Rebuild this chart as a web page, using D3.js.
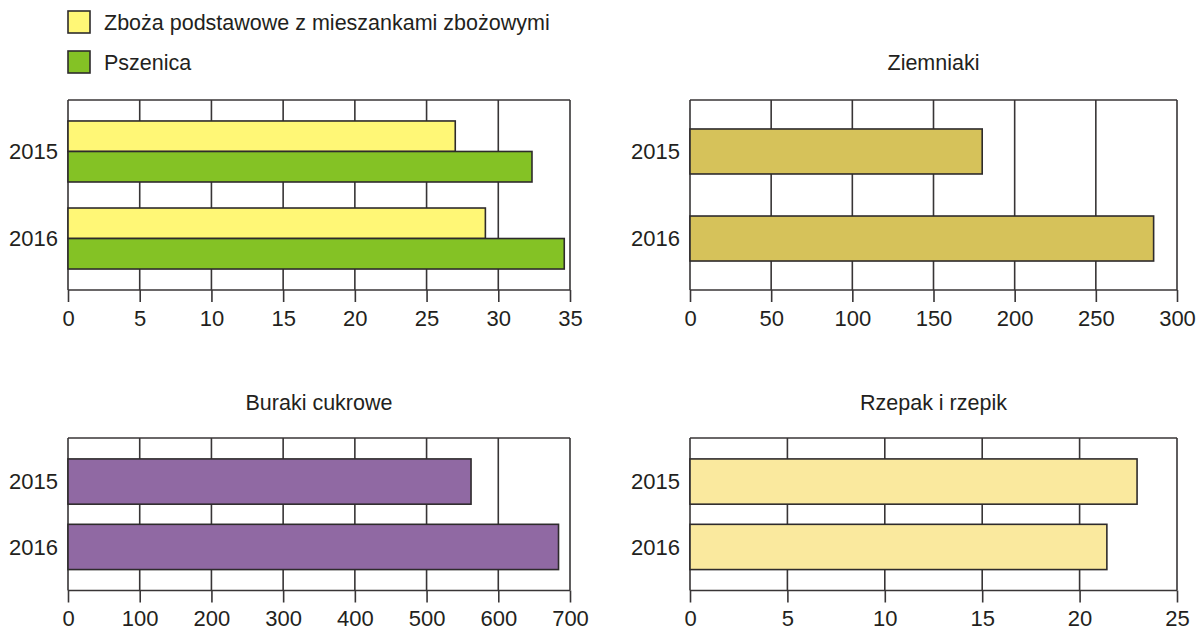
<!DOCTYPE html>
<html>
<head>
<meta charset="utf-8">
<script src="https://cdn.jsdelivr.net/npm/d3@7"></script>
<style>
  html, body { margin: 0; padding: 0; background: #ffffff; }
  svg { display: block; }
  text { font-family: "Liberation Sans", Arial, Helvetica, sans-serif; fill: #231f20; }
</style>
</head>
<body>
<svg id="chart" width="1196" height="630"></svg>
<script>
// ---------- DATA ----------
const years = ["2015", "2016"];

const legendLabels = ["Zboża podstawowe z mieszankami zbożowymi", "Pszenica"];
const zbozaValues = [27.0, 29.1];
const pszenicaValues = [32.35, 34.6];
const zbozaTicks = [0, 5, 10, 15, 20, 25, 30, 35];

const ziemniakiTitle = "Ziemniaki";
const ziemniakiValues = [180, 285.6];
const ziemniakiTicks = [0, 50, 100, 150, 200, 250, 300];

const burakiTitle = "Buraki cukrowe";
const burakiValues = [562, 684];
const burakiTicks = [0, 100, 200, 300, 400, 500, 600, 700];

const rzepakTitle = "Rzepak i rzepik";
const rzepakValues = [22.95, 21.4];
const rzepakTicks = [0, 5, 10, 15, 20, 25];

// ---------- STYLE ----------
const LINE = "#383536";
const FONT = 22;
const TFONT = 21.5;
const colZboza = "#fff776";
const colPszenica = "#84c225";
const colZiemniaki = "#d6c25a";
const colBuraki = "#9069a3";
const colRzepak = "#fae99e";

const svg = d3.select("#chart");

function panel(opts) {
  const { x0, x1, y0, y1, ticks, title, titleY } = opts;
  const g = svg.append("g");
  const x = d3.scaleLinear().domain([ticks[0], ticks[ticks.length - 1]]).range([x0, x1]);
  const y = d3.scaleBand().domain(years).range([y0, y1])
    .paddingInner(opts.pi).paddingOuter(opts.po);

  // gridlines (full height)
  g.append("g").selectAll("line").data(ticks).join("line")
    .attr("x1", d => x(d)).attr("x2", d => x(d))
    .attr("y1", y0).attr("y2", y1)
    .attr("stroke", LINE).attr("stroke-width", 1.6);
  // top border
  g.append("line").attr("x1", x0).attr("x2", x1).attr("y1", y0).attr("y2", y0)
    .attr("stroke", LINE).attr("stroke-width", 1.6);

  // bars
  opts.drawBars(g, x, y);

  // bottom axis
  const axis = d3.axisBottom(x).tickValues(ticks).tickSize(12).tickPadding(8)
    .tickFormat(d3.format("d"));
  const ag = g.append("g").attr("transform", `translate(0,${y1})`).call(axis);
  ag.select(".domain").remove();
  ag.selectAll(".tick line").attr("stroke", LINE).attr("stroke-width", 1.6);
  ag.selectAll(".tick text").attr("font-size", FONT).attr("fill", "#231f20")
    .style("font-family", '"Liberation Sans", Arial, sans-serif');
  g.append("line").attr("x1", x0).attr("x2", x1).attr("y1", y1).attr("y2", y1)
    .attr("stroke", LINE).attr("stroke-width", 1.6);

  // category labels
  g.append("g").selectAll("text").data(years).join("text")
    .attr("x", x0 - 10).attr("y", d => y(d) + y.bandwidth() / 2)
    .attr("dy", "0.35em").attr("text-anchor", "end").attr("font-size", FONT)
    .text(d => d);

  if (title) {
    g.append("text").attr("x", (x0 + x1) / 2).attr("y", titleY).attr("dy", "0.35em")
      .attr("text-anchor", "middle").attr("font-size", TFONT).text(title);
  }
}

function simpleBars(values, color) {
  return (g, x, y) => {
    g.append("g").selectAll("rect").data(years).join("rect")
      .attr("x", x(0)).attr("y", d => y(d))
      .attr("width", (d, i) => x(values[i]) - x(0))
      .attr("height", y.bandwidth())
      .attr("fill", color).attr("stroke", "#2e2b2c").attr("stroke-width", 1.6);
  };
}

// Panel 1: grouped bars
panel({
  x0: 68, x1: 570, y0: 100, y1: 290, ticks: zbozaTicks, pi: 0.299, po: 0.241,
  drawBars: (g, x, y) => {
    const series = [
      { name: legendLabels[0], values: zbozaValues, color: colZboza },
      { name: legendLabels[1], values: pszenicaValues, color: colPszenica }
    ];
    const sub = d3.scaleBand().domain(series.map(s => s.name)).range([0, y.bandwidth()]);
    series.forEach(s => {
      g.append("g").selectAll("rect").data(years).join("rect")
        .attr("x", x(0)).attr("y", d => y(d) + sub(s.name))
        .attr("width", (d, i) => x(s.values[i]) - x(0))
        .attr("height", sub.bandwidth())
        .attr("fill", s.color).attr("stroke", "#2e2b2c").attr("stroke-width", 1.6);
    });
  }
});

// Legend
const legendColors = [colZboza, colPszenica];
const lg = svg.append("g");
lg.selectAll("rect").data(legendLabels).join("rect")
  .attr("x", 68).attr("y", (d, i) => 11 + i * 40)
  .attr("width", 22).attr("height", 22)
  .attr("fill", (d, i) => legendColors[i]).attr("stroke", "#2e2b2c").attr("stroke-width", 1.6);
lg.selectAll("text").data(legendLabels).join("text")
  .attr("x", 104).attr("y", (d, i) => 22 + i * 40).attr("dy", "0.35em")
  .attr("font-size", TFONT).text(d => d);

// Panel 2
panel({
  x0: 690, x1: 1177, y0: 100, y1: 290, ticks: ziemniakiTicks, pi: 0.483, po: 0.333,
  title: ziemniakiTitle, titleY: 62,
  drawBars: simpleBars(ziemniakiValues, colZiemniaki)
});

// Panel 3
panel({
  x0: 68, x1: 570, y0: 438, y1: 590.5, ticks: burakiTicks, pi: 0.308, po: 0.32,
  title: burakiTitle, titleY: 402,
  drawBars: simpleBars(burakiValues, colBuraki)
});

// Panel 4
panel({
  x0: 690, x1: 1177, y0: 438, y1: 590.5, ticks: rzepakTicks, pi: 0.308, po: 0.32,
  title: rzepakTitle, titleY: 402,
  drawBars: simpleBars(rzepakValues, colRzepak)
});
</script>
</body>
</html>
